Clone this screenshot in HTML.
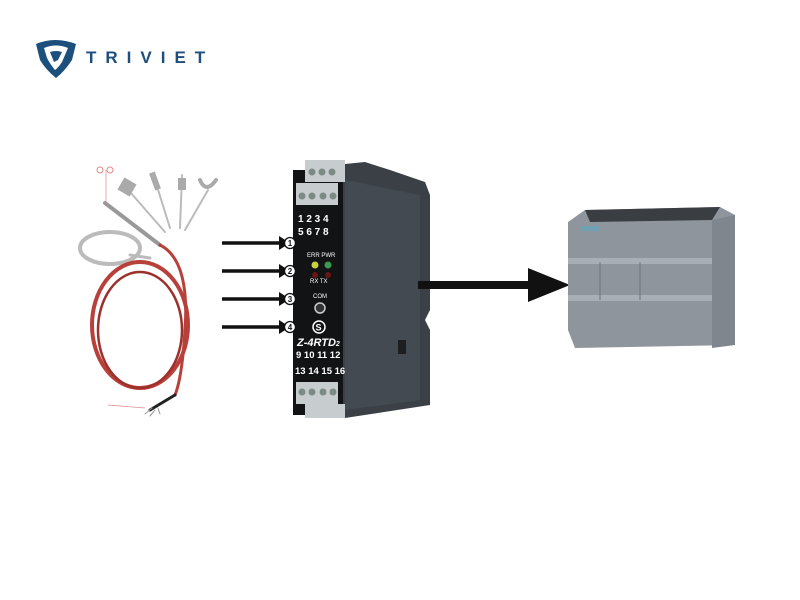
<!DOCTYPE html>
<html><head><style>body{margin:0;background:#fff}svg{display:block}</style></head><body>
<svg width="800" height="600" viewBox="0 0 800 600" xmlns="http://www.w3.org/2000/svg" font-family="Liberation Sans, sans-serif">
<rect width="800" height="600" fill="#fff"/>
<!-- logo -->
<path d="M36 44 Q55 36 76 44 L72 60 Q64 72 56 78 Q46 70 40 60 Z" fill="#1d4f7c"/>
<path d="M44 48 Q56 43 68 48 L62 62 Q58 68 55 70 Q50 64 47 58 Z" fill="#fff"/>
<path d="M50 52 Q56 50 62 52 L58 60 L54 62 Z" fill="#1d4f7c"/>
<text x="86" y="63" font-size="17" font-weight="bold" fill="#1d4f7c" letter-spacing="9">TRIVIET</text>
<!-- sensor -->
<g fill="none" stroke-linecap="round">
<ellipse cx="110" cy="248" rx="30" ry="16" stroke="#bbb" stroke-width="4"/>
<line x1="130" y1="255" x2="150" y2="258" stroke="#bbb" stroke-width="3"/>
<line x1="105" y1="203" x2="160" y2="245" stroke="#999" stroke-width="4"/>
<line x1="130" y1="192" x2="165" y2="232" stroke="#bbb" stroke-width="2"/>
<rect x="120" y="180" width="14" height="14" fill="#aaa" stroke="none" transform="rotate(30 127 187)"/>
<line x1="155" y1="180" x2="170" y2="228" stroke="#bbb" stroke-width="2"/>
<rect x="152" y="172" width="6" height="18" fill="#aaa" stroke="none" transform="rotate(-20 155 181)"/>
<line x1="182" y1="175" x2="180" y2="228" stroke="#bbb" stroke-width="2"/>
<rect x="178" y="178" width="8" height="12" fill="#aaa" stroke="none"/>
<line x1="208" y1="190" x2="185" y2="230" stroke="#bbb" stroke-width="2"/>
<path d="M200 180 Q206 194 216 180" stroke="#aaa" stroke-width="4"/>
<path d="M160 245 Q190 260 185 330 Q182 378 175 395" stroke="#b8403a" stroke-width="3"/>
<ellipse cx="140" cy="325" rx="48" ry="63" stroke="#b8403a" stroke-width="4"/>
<ellipse cx="140" cy="330" rx="42" ry="58" stroke="#9e302c" stroke-width="2.5"/>
<path d="M175 395 L150 410" stroke="#222" stroke-width="3"/>
<path d="M152 408 L145 414 M155 410 L150 416 M158 408 L160 414" stroke="#999" stroke-width="1"/>
</g>
<line x1="106" y1="170" x2="106" y2="203" stroke="#d88" stroke-width="0.7"/>
<line x1="108" y1="405" x2="145" y2="408" stroke="#d88" stroke-width="0.7"/>
<circle cx="100" cy="170" r="3" fill="none" stroke="#d88"/><circle cx="110" cy="170" r="3" fill="none" stroke="#d88"/>
<!-- input arrows -->
<g stroke="#111" stroke-width="3.5">
<line x1="222" y1="243" x2="282" y2="243"/><line x1="222" y1="271" x2="282" y2="271"/>
<line x1="222" y1="299" x2="282" y2="299"/><line x1="222" y1="327" x2="282" y2="327"/>
</g>
<g fill="#111">
<path d="M279 236 L290 243 L279 250Z"/><path d="M279 264 L290 271 L279 278Z"/>
<path d="M279 292 L290 299 L279 306Z"/><path d="M279 320 L290 327 L279 334Z"/>
</g>
<!-- module side -->
<path d="M335 165 L365 162 L390 170 L425 182 L430 195 L430 310 L425 320 L430 330 L430 405 L345 418 L335 418Z" fill="#3b4047"/>
<path d="M345 180 L420 195 L420 400 L345 410Z" fill="#444a52"/>
<rect x="398" y="340" width="8" height="14" fill="#1c1e22"/>
<!-- module front -->
<rect x="293" y="170" width="50" height="245" fill="#121314"/>
<rect x="305" y="160" width="40" height="22" fill="#c7ccce"/>
<rect x="296" y="183" width="42" height="22" fill="#c7ccce"/>
<rect x="296" y="382" width="42" height="22" fill="#c7ccce"/>
<rect x="305" y="404" width="40" height="14" fill="#c7ccce"/>
<g fill="#7c8a86"><circle cx="312" cy="172" r="3.5"/><circle cx="322" cy="172" r="3.5"/><circle cx="332" cy="172" r="3.5"/>
<circle cx="302" cy="196" r="3.5"/><circle cx="312" cy="196" r="3.5"/><circle cx="323" cy="196" r="3.5"/><circle cx="333" cy="196" r="3.5"/>
<circle cx="302" cy="392" r="3.5"/><circle cx="312" cy="392" r="3.5"/><circle cx="323" cy="392" r="3.5"/><circle cx="333" cy="392" r="3.5"/></g>
<g fill="#fff" font-weight="bold" font-size="10">
<text x="298" y="222">1 2 3 4</text><text x="298" y="235">5 6 7 8</text>
<text x="296" y="358" font-size="9.5">9 10 11 12</text><text x="295" y="374" font-size="9.5">13 14 15 16</text>
<text x="297" y="346" font-style="italic" font-size="11">Z-4RTD<tspan font-size="7">2</tspan></text>
</g>
<g fill="#fff" font-size="6"><text x="307" y="257">ERR PWR</text><text x="310" y="283">RX  TX</text><text x="313" y="298">COM</text></g>
<circle cx="315" cy="265" r="3.5" fill="#c8d040"/><circle cx="328" cy="265" r="3.5" fill="#3a9a50"/>
<circle cx="315" cy="275" r="3" fill="#6a1515"/><circle cx="328" cy="275" r="3" fill="#6a1515"/>
<circle cx="320" cy="308" r="5" fill="#333" stroke="#ccc" stroke-width="1.5"/>
<circle cx="319" cy="327" r="6" fill="none" stroke="#fff" stroke-width="1.5"/>
<text x="315.5" y="330.5" fill="#fff" font-size="9" font-weight="bold">S</text>
<g fill="#fff" stroke="#111" stroke-width="1.3"><circle cx="290" cy="243" r="5.5"/><circle cx="290" cy="271" r="5.5"/><circle cx="290" cy="299" r="5.5"/><circle cx="290" cy="327" r="5.5"/></g>
<g font-size="8" font-weight="bold" fill="#111" text-anchor="middle"><text x="290" y="246">1</text><text x="290" y="274">2</text><text x="290" y="302">3</text><text x="290" y="330">4</text></g>
<!-- big arrow -->
<rect x="418" y="281" width="115" height="8" fill="#111"/>
<path d="M528 268 L570 285 L528 302Z" fill="#111"/>
<!-- PLC -->
<path d="M585 210 L720 207 L735 215 L735 345 L575 348 L568 330 L568 222Z" fill="#8f959d"/>
<path d="M585 210 L720 207 L712 220 L590 222Z" fill="#3a3d42"/>
<path d="M712 220 L735 215 L735 345 L712 348Z" fill="#80868e"/>
<rect x="568" y="258" width="144" height="6" fill="#a8aeb5"/>
<rect x="568" y="295" width="144" height="6" fill="#a8aeb5"/>
<rect x="582" y="226" width="18" height="5" fill="#6fa0b4"/>
<line x1="600" y1="262" x2="600" y2="300" stroke="#6d737a"/><line x1="640" y1="262" x2="640" y2="300" stroke="#6d737a"/>
</svg>
</body></html>
